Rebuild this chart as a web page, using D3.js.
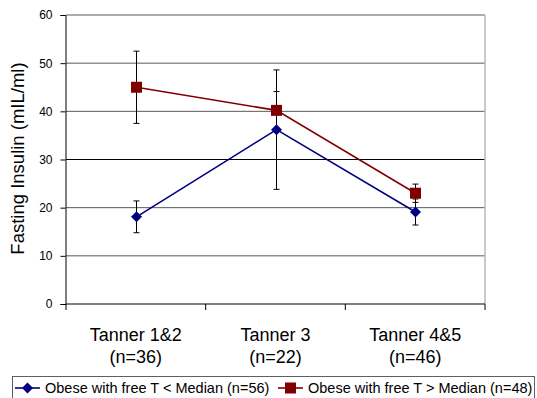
<!DOCTYPE html>
<html><head><meta charset="utf-8">
<script src="https://cdn.jsdelivr.net/npm/d3@7"></script>
<style>
html,body{margin:0;padding:0;background:#fff;}
svg{display:block;font-family:"Liberation Sans",Arial,sans-serif;}
</style></head>
<body><svg id="c" width="537" height="398"></svg>
<script>
const categories = ["Tanner 1&2", "Tanner 3", "Tanner 4&5"];
const nLabels = ["(n=36)", "(n=22)", "(n=46)"];
const lowMean = [18.1, 36.2, 19.1];
const lowErr = [3.3, 12.4, 2.7];
const highMean = [45.0, 40.2, 23.0];
const highErr = [7.5, 3.9, 1.9];
const yTicks = [0, 10, 20, 30, 40, 50, 60];
const seriesNames = ["Obese with free T < Median (n=56)", "Obese with free T > Median (n=48)"];

const svg = d3.select("#c");
const L = 66, R = 485, T = 15, B = 304;
const x = d3.scaleBand().domain(categories).range([L, R]).padding(0);
const y = d3.scaleLinear().domain([0, 60]).range([B, T]);
const cx = c => x(c) + x.bandwidth() / 2;

// gridlines
svg.append("g").selectAll("line").data(yTicks.filter(d => d > 0)).join("line")
  .attr("x1", L).attr("x2", R).attr("y1", d => y(d)).attr("y2", d => y(d))
  .attr("stroke", d => d === 30 ? "#000" : "#5a5a5a").attr("stroke-width", 1);
// right border
svg.append("line").attr("x1", R).attr("x2", R).attr("y1", T).attr("y2", B)
  .attr("stroke", "#b8b8b8").attr("stroke-width", 1.5);

// y axis
const ya = svg.append("g").attr("transform", `translate(${L - 0.5},0)`)
  .call(d3.axisLeft(y).tickValues(yTicks).tickSize(5).tickPadding(8).tickFormat(d3.format("d")));
ya.select(".domain").attr("stroke", "#000");
ya.selectAll(".tick line").attr("stroke", "#000");
ya.selectAll("text").attr("font-size", "12px").attr("font-family", "Liberation Sans, Arial, sans-serif").attr("fill", "#000");

// x axis line and boundary ticks
svg.append("line").attr("x1", L).attr("x2", R).attr("y1", B).attr("y2", B).attr("stroke", "#000");
const bounds = categories.map(c => x(c)).concat([x(categories[categories.length - 1]) + x.bandwidth()]);
svg.append("g").selectAll("line").data(bounds).join("line")
  .attr("x1", d => d).attr("x2", d => d).attr("y1", B).attr("y2", B + 6).attr("stroke", "#000");

// x labels
svg.append("g").selectAll("text").data(categories).join("text")
  .attr("x", d => cx(d)).attr("y", 341).attr("text-anchor", "middle")
  .attr("font-size", "18px").text(d => d);
svg.append("g").selectAll("text").data(nLabels).join("text")
  .attr("x", (d, i) => cx(categories[i])).attr("y", 363).attr("text-anchor", "middle")
  .attr("font-size", "18px").text(d => d);

// y title
svg.append("text").attr("transform", "translate(24,158.5) rotate(-90)")
  .attr("text-anchor", "middle").attr("font-size", "18.5px").text("Fasting Insulin (mIL/ml)");

const series = [
  {mean: lowMean, err: lowErr, color: "#000080", shape: "diamond"},
  {mean: highMean, err: highErr, color: "#800000", shape: "square"}
];

// error bars
series.forEach(s => {
  const g = svg.append("g").attr("stroke", "#000").attr("stroke-width", 1);
  categories.forEach((c, i) => {
    const px = Math.round(cx(c)) + 0.5;
    const top = y(s.mean[i] + s.err[i]), bot = y(s.mean[i] - s.err[i]);
    g.append("line").attr("x1", px).attr("x2", px).attr("y1", top).attr("y2", bot);
    g.append("line").attr("x1", px - 3).attr("x2", px + 3).attr("y1", top).attr("y2", top);
    g.append("line").attr("x1", px - 3).attr("x2", px + 3).attr("y1", bot).attr("y2", bot);
  });
});

// lines
const line = d3.line().x((d, i) => Math.round(cx(categories[i])) + 0.5).y(d => y(d));
series.forEach(s => {
  svg.append("path").datum(s.mean).attr("d", line).attr("fill", "none")
    .attr("stroke", s.color).attr("stroke-width", 1.6);
});

function marker(g, shape, color, px, py) {
  if (shape === "diamond") {
    g.append("path").attr("d", `M${px},${py - 5.5}L${px + 5.5},${py}L${px},${py + 5.5}L${px - 5.5},${py}Z`)
      .attr("fill", color);
  } else {
    g.append("rect").attr("x", px - 5.5).attr("y", py - 5.5).attr("width", 11).attr("height", 11)
      .attr("fill", color);
  }
}
series.forEach(s => {
  const g = svg.append("g");
  s.mean.forEach((v, i) => marker(g, s.shape, s.color, Math.round(cx(categories[i])) + 0.5, y(v)));
});

// legend
svg.append("rect").attr("x", 12.5).attr("y", 376.5).attr("width", 522).attr("height", 30)
  .attr("fill", "none").attr("stroke", "#606060").attr("stroke-width", 1);
const legX = [15, 278];
series.forEach((s, i) => {
  const g = svg.append("g");
  const lx = legX[i], ly = 388;
  g.append("line").attr("x1", lx).attr("x2", lx + 25).attr("y1", ly).attr("y2", ly)
    .attr("stroke", s.color).attr("stroke-width", 1.6);
  marker(g, s.shape, s.color, lx + 12.5, ly);
  g.append("text").attr("x", lx + 30).attr("y", 393).attr("font-size", "14.5px").text(seriesNames[i]);
});
</script></body></html>
